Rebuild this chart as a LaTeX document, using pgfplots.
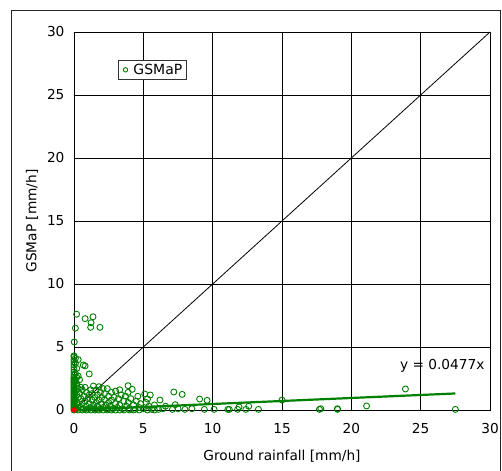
\documentclass[border=0pt]{standalone}
\usepackage{fontspec}
\setmainfont{DejaVu Sans}
\usepackage{pgfplots}
\pgfplotsset{compat=1.18}
\definecolor{gm}{RGB}{0,128,0}
\begin{document}
\begin{tikzpicture}[x=1pt,y=1pt]
\useasboundingbox (0,0) rectangle (502,470);
\draw[line width=1pt,black!85] (11.5,-2) -- (11.5,459.5) -- (500.5,459.5) -- (500.5,-2);
\begin{axis}[
  at={(74pt,60pt)}, anchor=south west, scale only axis,
  width=416pt, height=378pt,
  xmin=0, xmax=30, ymin=0, ymax=30,
  xtick={0,5,...,30}, ytick={0,5,...,30},
  grid=major, major grid style={black, line width=0.8pt},
  axis line style={black, line width=0.9pt},
  major tick length=0pt,
  tick label style={font=\fontsize{13.7}{16}\selectfont},
  /pgf/number format/assume math mode=true,
  xticklabel style={yshift=-10pt},
  yticklabel style={xshift=-6pt},
  xlabel={Ground rainfall [mm/h]},
  ylabel={GSMaP [mm/h]},
  label style={font=\fontsize{13.7}{16}\selectfont},
  xlabel style={at={(axis description cs:0.5,-0.122)}, anchor=center},
  ylabel style={at={(axis description cs:-0.101,0.5)}, anchor=center},
  legend style={at={(0.106,0.926)}, anchor=north west, draw=black!80, line width=0.8pt,
    font=\fontsize{14}{16}\selectfont, inner xsep=2pt, inner ysep=1.5pt},
  legend cell align=left,
  legend image code/.code={\path[draw=none,fill=none] (-5pt,0pt) -- (6pt,0pt); \draw[mark size=2.2pt] plot coordinates {(0pt,0pt)};},
]
\addplot[only marks, mark=o, mark size=3pt, gm, mark options={line width=0.9pt}] coordinates {
(0,0) (0,0.1) (0,0.2) (0,0.3) (0,0.4) (0,0.5) (0,0.6) (0,0.7) (0,0.8) (0,0.9)
(0,1.0) (0,1.1) (0,1.2) (0,1.3) (0,1.4) (0,1.5) (0,1.6) (0,1.7) (0,1.8) (0,1.9)
(0,2.0) (0,2.1) (0,2.2) (0,2.3) (0,2.4) (0,2.5) (0,2.6) (0,2.8) (0,3.0) (0,3.2)
(0,3.4) (0,3.6) (0,3.8) (0,4.0) (0,4.2) (0,4.3) (0.02,5.4) (0.1,6.5) (0.19,7.6)
(0.1,3.7) (0.1,4.1) (0.1,2.9) (0.1,2.3) (0.1,1.5) (0.1,0.8) (0.1,0.3)
(0.2,3.3) (0.2,2.6) (0.2,1.9) (0.2,1.2) (0.2,0.6) (0.2,0.1) (0.2,2.1)
(0.3,4.0) (0.3,1.7) (0.3,1.0) (0.3,0.4) (0.3,2.7) (0.4,2.4) (0.5,1.8)
(0.8,7.25) (1.37,7.4) (1.23,6.93) (1.2,6.56) (1.87,6.56) (0.8,3.5) (0.67,3.57) (1.1,2.86)
(0.4,1.3) (0.5,0.9) (0.5,0.2) (0.6,1.6) (0.6,0.5) (0.7,1.1) (0.7,0.1) (0.8,1.8) (0.8,0.7)
(0.9,0.3) (0.9,1.4) (1.0,0.9) (1.0,0.05) (1.1,1.2) (1.1,0.5) (1.2,1.6) (1.2,0.2)
(1.3,0.8) (1.3,1.3) (1.4,0.4) (1.4,1.9) (1.5,1.0) (1.5,0.1) (1.6,1.6) (1.6,0.6)
(1.7,1.2) (1.7,0.3) (1.8,1.85) (1.8,0.8) (1.9,0.1) (1.9,1.4) (2.0,0.5) (2.0,1.0)
(2.1,1.7) (2.1,0.2) (2.2,0.8) (2.2,1.3) (2.3,0.4) (2.4,1.7) (2.4,0.1) (2.5,1.1)
(2.5,0.6) (2.6,0.3) (2.7,1.4) (2.7,0.8) (2.8,0.1) (2.9,1.0) (3.0,0.5) (3.0,1.5)
(3.1,0.2) (3.2,0.9) (3.3,1.6) (3.3,0.4) (3.4,1.2) (3.5,0.1) (3.6,0.7) (3.7,1.1)
(3.8,0.3) (3.9,1.93) (3.9,1.4) (3.9,0.6) (4.0,0.1) (4.1,0.9) (4.2,1.64) (4.3,0.4)
(4.4,0.05) (4.5,0.7) (4.6,1.09) (4.7,0.2) (4.8,0.5) (5.0,0.1) (5.1,1.27) (5.2,0.6)
(5.3,0.87) (5.4,0.3) (5.5,1.19) (5.6,0.05) (5.8,0.4) (6.2,0.79) (6.4,0.1) (6.6,0.3)
(7.1,0.05) (7.2,1.43) (7.3,0.42) (7.5,0.1) (7.8,1.24) (8.0,0.05) (8.5,0.1) (9.06,0.87)
(9.4,0.05) (9.6,0.77) (10.1,0.05) (11.1,0.05) (11.2,0.05) (11.8,0.05) (11.9,0.24)
(12.4,0.05) (12.6,0.3) (13.3,0.05) (15.0,0.79) (17.7,0.05) (17.8,0.1) (19.0,0.05)
(19.0,0.1) (21.1,0.32) (23.9,1.67) (27.5,0.05)
(0.3,0) (0.6,0) (0.9,0) (1.2,0) (1.5,0) (1.8,0) (2.1,0) (2.4,0) (2.7,0) (3.0,0)
(3.3,0) (3.6,0) (4.0,0) (4.3,0) (4.7,0) (5.3,0) (5.8,0) (6.1,0.05)
};
\addlegendentry{GSMaP}
\addplot[black, line width=0.8pt, forget plot] coordinates {(0,0) (30,30)};
\addplot[gm, line width=2.2pt, forget plot] coordinates {(0,0) (27.5,1.312)};
\addplot[only marks, mark=*, mark size=2.5pt, red, forget plot] coordinates {(0,0)};
\node[font=\fontsize{13.7}{16}\selectfont, anchor=east] at (axis cs:29.85,3.5) {y = 0.0477x};
\end{axis}
\end{tikzpicture}
\end{document}
